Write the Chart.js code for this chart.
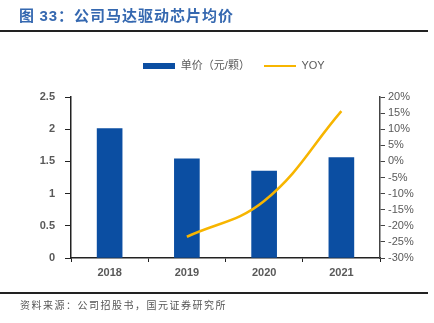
<!DOCTYPE html>
<html>
<head>
<meta charset="utf-8">
<script src="https://cdn.jsdelivr.net/npm/chart.js@4"></script>
<style>
  html, body { margin: 0; padding: 0; background: #fff; }
  #wrap { position: relative; width: 434px; height: 323px; overflow: hidden; }
  #title { position: absolute; left: 19px; top: 4px; font: bold 15px "Noto Sans CJK SC", "Liberation Sans", sans-serif; color: #3568b0; letter-spacing: 1px; white-space: nowrap; }
  #title b { font-family: "Liberation Sans", Arial, sans-serif; }
  .rule { position: absolute; left: 0; width: 428px; height: 2px; background: #222; }
  #source { position: absolute; left: 20px; top: 297px; font: 10px "Noto Sans CJK SC", sans-serif; color: #555; letter-spacing: 1.5px; white-space: nowrap; }
  canvas { position: absolute; left: 0; top: 0; }
</style>
</head>
<body>
<div id="wrap">
  <canvas id="c" width="434" height="323"></canvas>
  <div id="title">图 <b>33</b>：公司马达驱动芯片均价</div>
  <div class="rule" style="top:30px"></div>
  <div class="rule" style="top:292px"></div>
  <div id="source">资料来源：公司招股书，国元证券研究所</div>
</div>
<script>
const years = ['2018', '2019', '2020', '2021'];
const price = [2.01, 1.54, 1.35, 1.56];
const yoy = [null, -23.4, -12.3, 15.6];

const BLUE = '#0b4ea2';
const ORANGE = '#f7b500';

function legendMark(w, h, color) {
  const c = document.createElement('canvas');
  c.width = w; c.height = h;
  const g = c.getContext('2d');
  g.fillStyle = color;
  g.fillRect(0, 0, w, h);
  return c;
}

// push the plot down below the legend, and nudge the legend right a bit
const legendGap = {
  id: 'legendGap',
  beforeInit(chart) {
    const fit = chart.legend.fit;
    chart.legend.fit = function () {
      fit.call(this);
      this.height += 16;
    };
  },
  afterLayout(chart) {
    chart.legend.left += 17;
    chart.legend.right += 17;
  }
};

const tickFont = { family: '"Liberation Sans", Arial, sans-serif', size: 11, weight: 'bold' };

new Chart(document.getElementById('c'), {
  data: {
    labels: years,
    datasets: [
      {
        type: 'line',
        label: 'YOY',
        data: yoy,
        yAxisID: 'y2',
        borderColor: ORANGE,
        backgroundColor: ORANGE,
        borderWidth: 2.5,
        pointRadius: 0,
        tension: 0.4,
        pointStyle: legendMark(32, 2, ORANGE),
        order: 0
      },
      {
        type: 'bar',
        label: '单价（元/颗）',
        data: price,
        yAxisID: 'y',
        backgroundColor: BLUE,
        barThickness: 25,
        pointStyle: legendMark(32, 6, BLUE),
        order: 1
      }
    ]
  },
  options: {
    responsive: false,
    animation: false,
    layout: { padding: { top: 46, left: 0, right: 0, bottom: 0 } },
    plugins: {
      tooltip: { enabled: false },
      legend: {
        position: 'top',
        reverse: true,
        labels: {
          usePointStyle: true,
          pointStyleWidth: 32,
          boxHeight: 8,
          padding: 14,
          color: '#595959',
          font: { family: '"Liberation Sans", "Noto Sans CJK SC", sans-serif', size: 11 }
        }
      }
    },
    scales: {
      x: {
        offset: true,
        grid: { drawOnChartArea: false, offset: true, tickLength: 4, color: '#222' },
        border: { color: '#222', width: 1.5 },
        ticks: { color: '#595959', font: tickFont, padding: 4 },
        afterFit: s => { s.height = 65; }
      },
      y: {
        position: 'left',
        min: 0, max: 2.5,
        grid: { drawOnChartArea: false, tickLength: 6, color: '#222' },
        border: { color: '#222', width: 1.5 },
        ticks: { stepSize: 0.5, color: '#595959', font: tickFont, padding: 10, callback: v => String(+v.toFixed(1)) },
        afterFit: s => { s.width = 71; }
      },
      y2: {
        position: 'right',
        min: -30, max: 20,
        grid: { drawOnChartArea: false, tickLength: 5, color: '#444' },
        border: { color: '#444', width: 1.5 },
        ticks: { stepSize: 5, autoSkip: false, color: '#595959', font: { family: '"Liberation Sans", Arial, sans-serif', size: 11 }, padding: 3, callback: v => v + '%' },
        afterFit: s => { s.width = 54; }
      }
    }
  },
  plugins: [legendGap]
});
</script>
</body>
</html>
